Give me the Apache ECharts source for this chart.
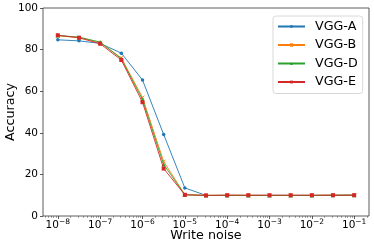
<!DOCTYPE html>
<html><head><meta charset="utf-8">
<script src="https://cdn.jsdelivr.net/npm/echarts@6/dist/echarts.min.js"></script>
<style>html,body{margin:0;padding:0;background:#fff}#c{width:374px;height:249px}</style>
</head><body><div id="c"></div>
<script>
// write noise exponents (noise = 10^exp)
const noiseExp = [-8, -7.5, -7, -6.5, -6, -5.5, -5, -4.5, -4, -3.5, -3, -2.5, -2, -1.5, -1];
const vggA = [84.7, 84.2, 83.0, 78.3, 65.4, 39.2, 13.5, 9.9, 9.9, 9.9, 9.9, 9.9, 9.9, 9.9, 10.0];
const vggB = [86.6, 85.8, 83.4, 76.0, 57.0, 26.2, 10.3, 9.9, 10.0, 9.9, 9.9, 9.9, 9.9, 10.0, 10.0];
const vggD = [86.8, 86.0, 83.6, 75.6, 56.0, 24.8, 10.2, 9.9, 9.9, 9.9, 9.9, 9.9, 9.9, 10.0, 10.0];
const vggE = [86.9, 85.7, 82.8, 75.0, 54.7, 22.8, 10.2, 9.9, 10.0, 10.0, 10.0, 10.0, 10.0, 10.0, 10.0];
const majorTicks = [-8, -7, -6, -5, -4, -3, -2, -1];
const yTicks = [0, 20, 40, 60, 80, 100];
const names = ['VGG-A', 'VGG-B', 'VGG-D', 'VGG-E'];

const minorTicks = [];
for (let n = -9; n <= -1; n++) for (let k = 2; k <= 9; k++) {
  const v = n + Math.log10(k);
  if (v > -8.35 && v < -0.65) minorTicks.push(v);
}
const FONT = 'DejaVu Sans';
const pair = arr => noiseExp.map((x, i) => [x, arr[i]]);
const colors = ['#1f77b4', '#ff7f0e', '#2ca02c', '#d62728'];
const symbols = ['circle', 'path://M0,0L10,10M10,0L0,10', 'triangle', 'rect'];
const sizes = [3.5, 3.5, 4.2, 4];
const datas = [vggA, vggB, vggD, vggE];

const chart = echarts.init(document.getElementById('c'), null, {renderer: 'canvas'});
chart.setOption({
  animation: false,
  textStyle: {fontFamily: FONT},
  grid: {left: 43, top: 8, right: 5, bottom: 33, outerBoundsMode: 'none', containLabel: false,
         show: true, borderColor: '#333', borderWidth: 0.8, backgroundColor: 'transparent'},
  legend: {
    orient: 'vertical', left: 273, top: 16,
    padding: [4, 5, 5, 4],
    borderColor: '#d8d8d8', borderWidth: 1, borderRadius: 3, backgroundColor: '#fff',
    itemWidth: 27, itemHeight: 3.5, itemGap: 5.5, textStyle: {fontSize: 12.7, color: '#000', fontFamily: FONT, padding: [0, 0, 0, 5]},
    data: names
  },
  xAxis: [{
    type: 'value', min: -8.35, max: -0.65,
    name: 'Write noise', nameLocation: 'middle', nameGap: 13.5, nameMoveOverlap: false,
    nameTextStyle: {fontSize: 12.7, color: '#000', fontFamily: FONT},
    axisLine: {show: false},
    splitLine: {show: false},
    axisTick: {show: true, length: 3, lineStyle: {color: '#333', width: 0.8}, customValues: majorTicks},
    axisLabel: {
      customValues: majorTicks, margin: 2, color: '#000',
      formatter: v => '{b|10}{s|−' + Math.abs(Math.round(v)) + '}',
      rich: {b: {fontSize: 10.5, fontFamily: FONT, color: '#000', verticalAlign: 'bottom', lineHeight: 13},
             s: {fontSize: 7.5, fontFamily: FONT, color: '#000', verticalAlign: 'top', lineHeight: 13}}
    }
  }, {
    type: 'value', min: -8.35, max: -0.65, position: 'bottom',
    axisLine: {show: false}, splitLine: {show: false}, axisLabel: {show: false},
    axisTick: {show: true, length: 1.8, lineStyle: {color: '#555', width: 0.6}, customValues: minorTicks}
  }],
  yAxis: {
    type: 'value', min: 0, max: 100, interval: 20,
    name: 'Accuracy', nameLocation: 'middle', nameGap: 26, nameRotate: 90, nameMoveOverlap: false,
    nameTextStyle: {fontSize: 12.7, color: '#000', fontFamily: FONT},
    axisLine: {show: false},
    splitLine: {show: false},
    axisTick: {show: true, length: 3, lineStyle: {color: '#333', width: 0.8}},
    axisLabel: {fontSize: 10.5, color: '#000', margin: 5, fontFamily: FONT}
  },
  series: datas.map((d, i) => ({
    name: names[i], type: 'line', data: pair(d),
    symbol: symbols[i], symbolSize: sizes[i], showSymbol: true,
    lineStyle: {color: colors[i], width: 0.9},
    itemStyle: {color: colors[i], borderColor: colors[i], borderWidth: i === 1 ? 1 : 0},
    emphasis: {disabled: true}, z: 2 + i
  }))
});
</script></body></html>
